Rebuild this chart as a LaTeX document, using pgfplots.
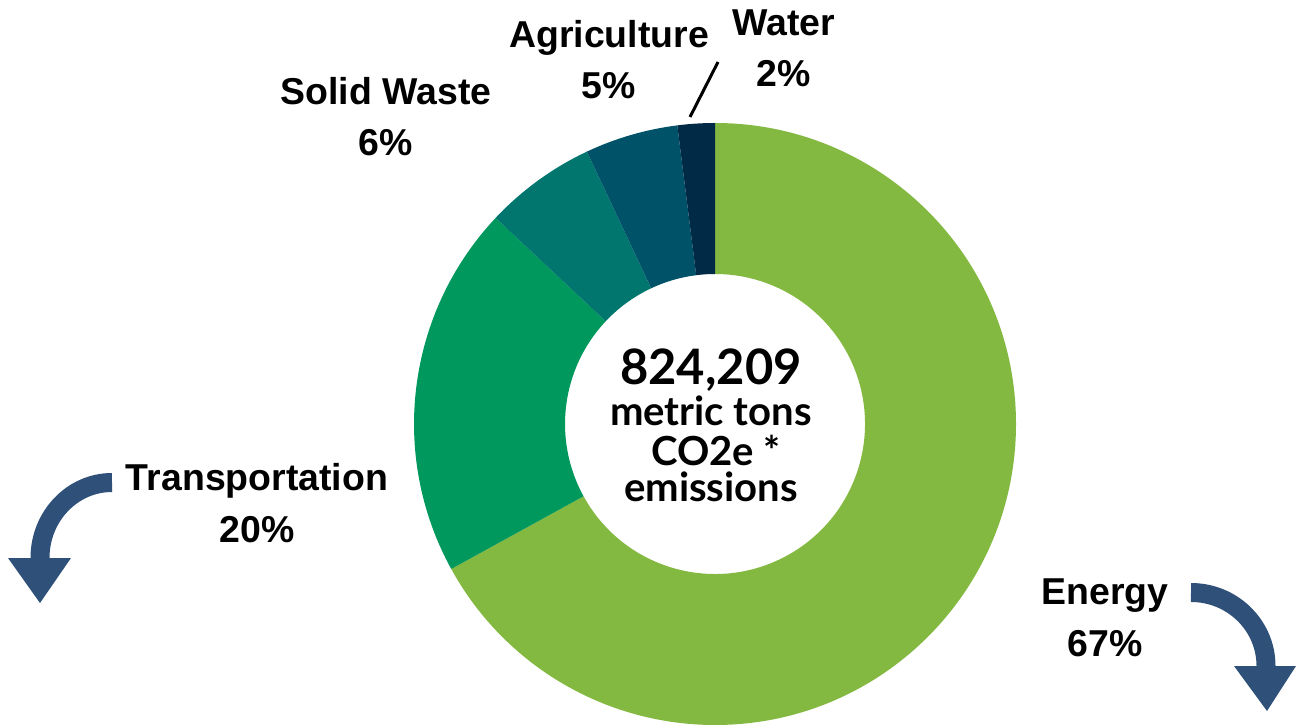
\documentclass[border=0pt]{standalone}
\usepackage{pgfplots}
\pgfplotsset{compat=1.18}
\usepackage{pgfplotstable}
\usepackage{fontspec}
\setmainfont{Liberation Sans}
\newfontfamily\latofont{Lato}

\definecolor{c0}{RGB}{132,185,65}   % Energy
\definecolor{c1}{RGB}{0,152,92}     % Transportation
\definecolor{c2}{RGB}{0,118,110}    % Solid Waste
\definecolor{c3}{RGB}{0,82,104}     % Agriculture
\definecolor{c4}{RGB}{0,42,70}      % Water
\definecolor{arrowblue}{RGB}{46,80,121}

% value = share in percent; lx, ly = where its label sits (first baseline)
\pgfplotstableread{
value lx   ly  name
67    1105 122 Energy
20    257  236 Transportation
6     386  622 {Solid Waste}
5     609  679 Agriculture
2     784  691 Water
}\emissions

\newcommand\labelfont{\bfseries\fontsize{10.65}{12}\selectfont}
\newcommand\centrefont{\latofont\bfseries\fontsize{11.4}{13}\selectfont}
\newcommand\pct{\%}

\begin{document}
\begin{tikzpicture}
\begin{axis}[
    width=12.96cm, height=7.27cm,
    scale only axis,
    xmin=0, xmax=1296, ymin=0, ymax=727,
    hide axis,
    clip=false,
  ]
  \coordinate (bl) at (rel axis cs:0,0);
  \coordinate (tr) at (rel axis cs:1,1);

  % donut, clockwise from the top
  \def\cum{0}
  \pgfplotsforeachungrouped \i in {0,...,4}{%
    \pgfplotstablegetelem{\i}{value}\of\emissions \let\v\pgfplotsretval
    \pgfplotstablegetelem{\i}{lx}\of\emissions \let\lx\pgfplotsretval
    \pgfplotstablegetelem{\i}{ly}\of\emissions \let\ly\pgfplotsretval
    \pgfplotstablegetelem{\i}{name}\of\emissions \let\nm\pgfplotsretval
    \pgfmathsetmacro\a{90-3.6*\cum}%
    \pgfmathsetmacro\cum{\cum+\v}%
    \pgfmathsetmacro\b{90-3.6*\cum}%
    \pgfmathsetmacro\lyb{\ly-51}%
    \edef\temp{%
      \noexpand\fill[c\i] ([shift={(\a:3.01cm)}]axis cs:715,303)
        arc[start angle=\a, end angle=\b, radius=3.01cm]
        -- ([shift={(\b:1.50cm)}]axis cs:715,303)
        arc[start angle=\b, end angle=\a, radius=1.50cm] -- cycle;
      \noexpand\node[anchor=base, inner sep=0pt, font=\noexpand\labelfont]
        at (axis cs:\lx,\ly) {\nm};
      \noexpand\node[anchor=base, inner sep=0pt, font=\noexpand\labelfont]
        at (axis cs:\lx,\lyb) {\v\noexpand\pct};
    }%
    \temp
  }

  % leader line for Water
  \draw[line width=0.3mm] (axis cs:690,610) -- (axis cs:718,665);

  % centre text
  \node[anchor=base, inner sep=0pt, font=\latofont\bfseries\fontsize{13.9}{16}\selectfont]
    at (axis cs:711,342) {824,209};
  \node[anchor=base, inner sep=0pt, font=\centrefont] at (axis cs:711,301) {metric tons};
  \node[anchor=base, inner sep=0pt, font=\centrefont] at (axis cs:716,261) {CO2e *};
  \node[anchor=base, inner sep=0pt, font=\centrefont] at (axis cs:711,226) {emissions};

  % curved arrows
  \draw[arrowblue, line width=1.9mm] (axis cs:112,244.5)
    arc[start angle=90, end angle=180, x radius=0.72cm, y radius=0.755cm] -- ++(0,-0.03cm);
  \fill[arrowblue] (axis cs:8,169) -- (axis cs:71,169) -- (axis cs:40,124) -- cycle;
  \draw[arrowblue, line width=1.9mm] (axis cs:1191,134.5)
    arc[start angle=90, end angle=0, x radius=0.75cm, y radius=0.735cm] -- ++(0,-0.03cm);
  \fill[arrowblue] (axis cs:1234,61) -- (axis cs:1296,61) -- (axis cs:1267,16) -- cycle;
\end{axis}
\pgfresetboundingbox
\path[use as bounding box] (bl) rectangle (tr);
\end{tikzpicture}
\end{document}
